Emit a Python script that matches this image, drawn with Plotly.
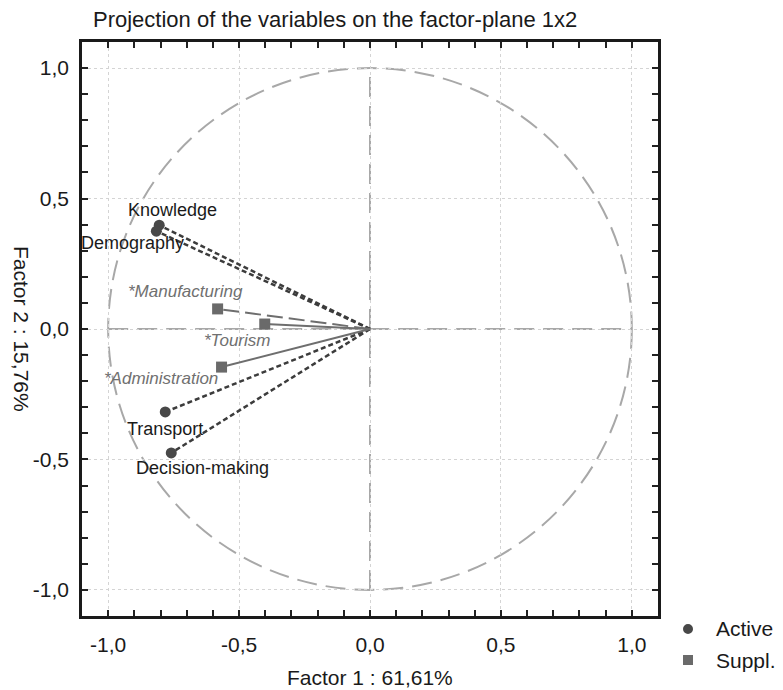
import plotly.graph_objects as go

active_names = ["Knowledge", "Demography", "Transport", "Decision-making"]
active_f1 = [-0.805, -0.816, -0.782, -0.759]
active_f2 = [0.398, 0.375, -0.318, -0.475]

suppl_names = ["*Manufacturing", "*Tourism", "*Administration"]
suppl_f1 = [-0.582, -0.402, -0.567]
suppl_f2 = [0.077, 0.019, -0.146]
suppl_dash = ["16px,6px", "solid", "solid"]

tick_vals = [-1.0, -0.5, 0.0, 0.5, 1.0]
tick_text = ["-1,0", "-0,5", "0,0", "0,5", "1,0"]

legend_labels = ["Active", "Suppl."]

# label offsets (pixels) relative to each point
active_off = [(13, 15), (-24, -12), (0, -17), (31, -15)]
suppl_off = [(-32, 17), (-28, -16), (-61, -11)]

ACTIVE_COLOR = "#484848"
SUPPL_COLOR = "#6a6a6a"

fig = go.Figure()

# vectors from origin
for x, y in zip(active_f1, active_f2):
    fig.add_trace(go.Scatter(x=[0, x], y=[0, y], mode="lines",
                             line=dict(color="#3c3c3c", width=2.5, dash="5px,3px"),
                             showlegend=False, hoverinfo="skip"))
for x, y, d in zip(suppl_f1, suppl_f2, suppl_dash):
    fig.add_trace(go.Scatter(x=[0, x], y=[0, y], mode="lines",
                             line=dict(color="#6e6e6e", width=2, dash=d),
                             showlegend=False, hoverinfo="skip"))

fig.add_trace(go.Scatter(x=active_f1, y=active_f2, mode="markers", name=legend_labels[0],
                         text=active_names, showlegend=False,
                         marker=dict(symbol="circle", size=11, color=ACTIVE_COLOR)))
fig.add_trace(go.Scatter(x=suppl_f1, y=suppl_f2, mode="markers", name=legend_labels[1],
                         text=suppl_names, showlegend=False,
                         marker=dict(symbol="square", size=11, color=SUPPL_COLOR)))

# unit circle and axes through origin
guide = dict(color="#a8a8a8", width=2, dash="20px,9px")
fig.add_shape(type="circle", x0=-1, y0=-1, x1=1, y1=1, xref="x", yref="y",
              line=guide, layer="below")
fig.add_shape(type="line", x0=-1, y0=0, x1=1, y1=0, xref="x", yref="y",
              line=guide, layer="below")
fig.add_shape(type="line", x0=0, y0=-1, x1=0, y1=1, xref="x", yref="y",
              line=guide, layer="below")

font_family = "Liberation Sans, Arial, sans-serif"
for n, x, y, (dx, dy) in zip(active_names, active_f1, active_f2, active_off):
    fig.add_annotation(x=x, y=y, text=n, showarrow=False, xshift=dx, yshift=dy,
                       font=dict(size=18, color="#1a1a1a", family=font_family))
for n, x, y, (dx, dy) in zip(suppl_names, suppl_f1, suppl_f2, suppl_off):
    fig.add_annotation(x=x, y=y, text="<i>" + n + "</i>", showarrow=False, xshift=dx, yshift=dy,
                       font=dict(size=17, color="#707070", family=font_family))

fig.add_annotation(text="Factor 1 : 61,61%", xref="paper", yref="paper", x=0.5, y=-0.108,
                   xanchor="center", yanchor="middle",
                   showarrow=False, font=dict(size=21, color="#1a1a1a", family=font_family))
fig.add_annotation(text="Factor 2 : 15,76%", xref="paper", yref="paper", x=-0.104, y=0.5,
                   xanchor="center", yanchor="middle",
                   textangle=90, showarrow=False, font=dict(size=21, color="#1a1a1a", family=font_family))

# legend (drawn manually, outside the plot area, bottom right)
leg_rows_y = [-0.0226, -0.0767]
leg_symbols = ["circle", "rect"]
leg_colors = [ACTIVE_COLOR, SUPPL_COLOR]
for lbl, ly, sym, col in zip(legend_labels, leg_rows_y, leg_symbols, leg_colors):
    fig.add_shape(type=sym, xref="paper", yref="paper", xsizemode="pixel", ysizemode="pixel",
                  xanchor=1.0521, yanchor=ly, x0=-5, x1=5, y0=-5, y1=5,
                  fillcolor=col, line=dict(width=0))
    fig.add_annotation(text=lbl, xref="paper", yref="paper", x=1.0972, y=ly,
                       xanchor="left", yanchor="middle", showarrow=False,
                       font=dict(size=21, color="#1a1a1a", family=font_family))

axis_common = dict(
    range=[-1.1, 1.1], tickvals=tick_vals, ticktext=tick_text,
    ticks="inside", ticklen=6, tickwidth=1.5, tickcolor="#222",
    showline=True, linewidth=2.5, linecolor="#1a1a1a", mirror="allticks",
    showgrid=True, gridcolor="#d4d4d4", griddash="dot", gridwidth=1,
    zeroline=False, automargin=False,
    tickfont=dict(size=21, color="#1a1a1a", family=font_family),
    minor=dict(dtick=0.1, ticks="inside", ticklen=6, tickcolor="#222", showgrid=False),
)

fig.update_layout(
    width=775, height=682,
    margin=dict(l=74, r=125, t=34, b=74, autoexpand=False),
    paper_bgcolor="white", plot_bgcolor="white",
    title=dict(text="Projection of the variables on the factor-plane 1x2",
               x=85 / 775, xanchor="left", xref="container",
               y=1 - 11 / 682, yanchor="middle", yref="container",
               font=dict(size=22, color="#1a1a1a", family=font_family)),
    xaxis=dict(**axis_common, ticklabelstandoff=8),
    yaxis=dict(**axis_common, ticklabelstandoff=6),
    showlegend=False,
)

fig.write_html("out.html")
